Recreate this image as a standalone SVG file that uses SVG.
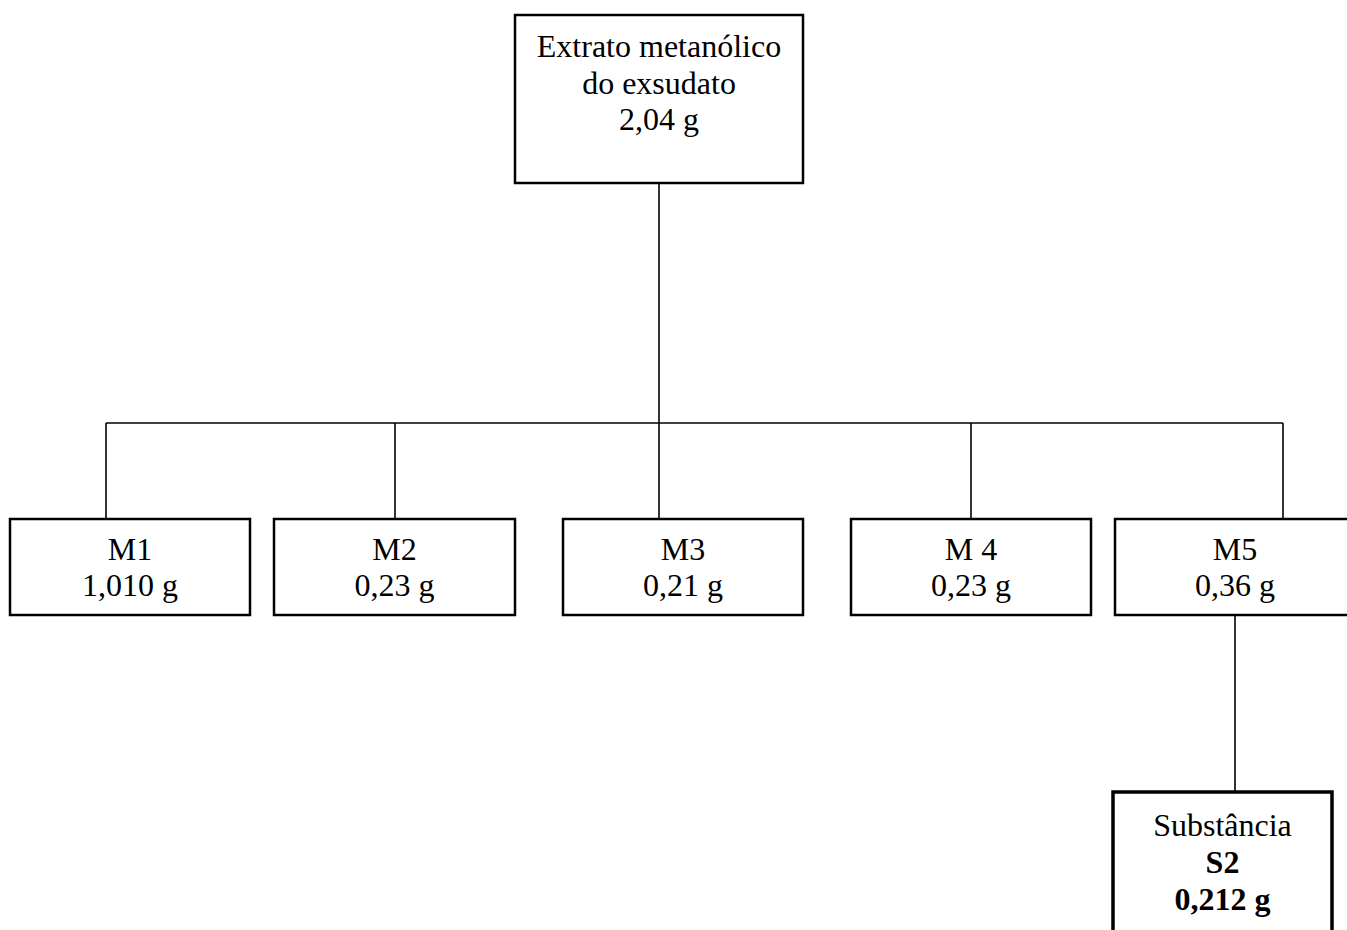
<svg xmlns="http://www.w3.org/2000/svg" width="1347" height="930" viewBox="0 0 1347 930">
<style>
.box{fill:#fff;stroke:#000;stroke-width:2.5}
.bold{stroke-width:3.5}
.t{font-family:"Liberation Serif","Times New Roman",serif;font-size:32px;text-anchor:middle;fill:#000}
.b{font-weight:bold}
.c{stroke:#000;stroke-width:1.6;fill:none}
</style>
<rect width="1347" height="930" fill="#fff"/>
<g id="connectors">
<line class="c" x1="659" y1="183" x2="659" y2="519"/>
<line class="c" x1="106" y1="423" x2="1283" y2="423"/>
<line class="c" x1="106" y1="423" x2="106" y2="519"/>
<line class="c" x1="395" y1="423" x2="395" y2="519"/>
<line class="c" x1="971" y1="423" x2="971" y2="519"/>
<line class="c" x1="1283" y1="423" x2="1283" y2="519"/>
<line class="c" x1="1235" y1="615" x2="1235" y2="792"/>
</g>
<g id="root">
<rect class="box" x="515" y="15" width="288" height="168"/>
<text class="t" x="659" y="57">Extrato metanólico</text>
<text class="t" x="659" y="94">do exsudato</text>
<text class="t" x="659" y="130">2,04 g</text>
</g>
<g id="m1">
<rect class="box" x="10" y="519" width="240" height="96"/>
<text class="t" x="130" y="560">M1</text>
<text class="t" x="130" y="596">1,010 g</text>
</g>
<g id="m2">
<rect class="box" x="274" y="519" width="241" height="96"/>
<text class="t" x="394.5" y="560">M2</text>
<text class="t" x="394.5" y="596">0,23 g</text>
</g>
<g id="m3">
<rect class="box" x="563" y="519" width="240" height="96"/>
<text class="t" x="683" y="560">M3</text>
<text class="t" x="683" y="596">0,21 g</text>
</g>
<g id="m4">
<rect class="box" x="851" y="519" width="240" height="96"/>
<text class="t" x="971" y="560">M 4</text>
<text class="t" x="971" y="596">0,23 g</text>
</g>
<g id="m5">
<rect class="box" x="1115" y="519" width="240" height="96"/>
<text class="t" x="1235" y="560">M5</text>
<text class="t" x="1235" y="596">0,36 g</text>
</g>
<g id="s2">
<rect class="box bold" x="1113" y="792" width="219" height="160"/>
<text class="t" x="1222.5" y="836">Substância</text>
<text class="t b" x="1222.5" y="873">S2</text>
<text class="t b" x="1222.5" y="910">0,212 g</text>
</g>
</svg>
